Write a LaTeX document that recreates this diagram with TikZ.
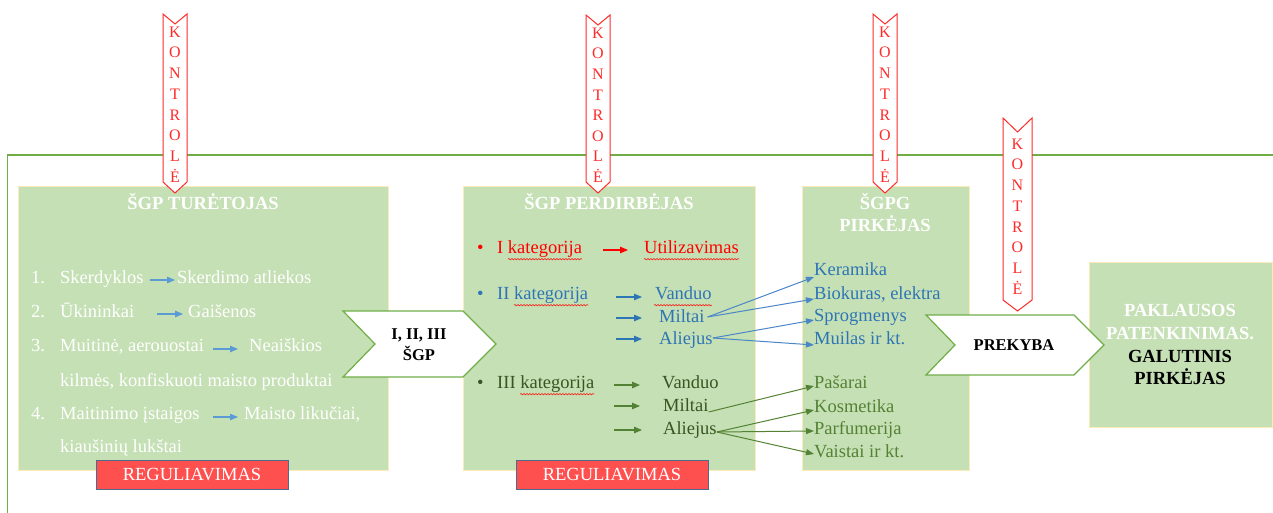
\documentclass[tikz,border=0pt]{standalone}
\usepackage{fontspec}
\setmainfont{Liberation Serif}
\usetikzlibrary{arrows.meta,calc,decorations.pathmorphing}

\definecolor{boxgreen}{HTML}{C5E0B4}
\definecolor{boxedge}{HTML}{FCEBB8}
\definecolor{framegreen}{HTML}{70AD47}
\definecolor{ctrlred}{HTML}{FF2A2A}
\definecolor{regred}{HTML}{FF5050}
\definecolor{regedge}{HTML}{4F6A8F}
\definecolor{catred}{HTML}{FF0000}
\definecolor{catblue}{HTML}{2E75B6}
\definecolor{lineblue}{HTML}{4A86C8}
\definecolor{listblue}{HTML}{5B9BD5}
\definecolor{catgreen}{HTML}{375623}
\definecolor{itemgreen}{HTML}{548235}

\newcommand\bodyfs{\fontsize{18.5}{22}\selectfont}
\newcommand\ctrlfs{\fontsize{16}{18}\selectfont}
\newcommand\chevfs{\fontsize{16.5}{20}\selectfont\bfseries}

\tikzset{
  txt/.style={inner sep=0pt, anchor=west, text height=13pt, text depth=4pt, font=\bodyfs},
  title/.style={inner sep=0pt, text height=12.3pt, text depth=0pt, font=\bodyfs\bfseries, text=white},
  panel/.style={draw=boxedge, line width=0.8pt, fill=boxgreen, inner sep=0pt},
  ctrl/.style={draw=ctrlred, fill=white, line width=1pt, line join=miter},
  ctrlletter/.style={inner sep=0pt, text height=10.6pt, text depth=0pt, font=\ctrlfs, text=ctrlred},
  chev/.style={draw=framegreen, fill=white, line width=1.2pt, line join=miter},
  chevtext/.style={inner sep=0pt, text height=11pt, text depth=0pt, font=\chevfs},
  regbox/.style={draw=regedge, line width=1pt, fill=regred, minimum width=192pt,
    minimum height=29pt, inner sep=0pt, font=\bodyfs, text=white},
  listarr/.style={-{Triangle[length=8pt,width=6.5pt]}, line width=1.1pt, draw=listblue},
  catarr/.style={-{Triangle[length=8pt,width=6.5pt]}, line width=1.1pt},
  wavy/.style={draw=catred, line width=0.5pt, decorate,
    decoration={snake, segment length=3pt, amplitude=0.7pt}},
  fanblue/.style={-{Triangle[length=8pt,width=6pt]}, line width=1pt, draw=lineblue},
  fangreen/.style={-{Triangle[length=8pt,width=6pt]}, line width=1pt, draw=itemgreen},
}

\begin{document}
\begin{tikzpicture}[x=1pt, y=-1pt]
\useasboundingbox (0,0) rectangle (1273,513);

% outer frame
\draw[framegreen, line width=1.2pt] (1273,155) -- (7.5,155) -- (7.5,513);

% panels
\node[panel, minimum width=370pt, minimum height=284pt] (holder) at (203,328) {};
\node[panel, minimum width=292pt, minimum height=284pt] (processor) at (609,328) {};
\node[panel, minimum width=167pt, minimum height=284pt] (buyer) at (885.5,328) {};
\node[panel, minimum width=183pt, minimum height=165pt] (final) at (1180.5,344.5) {};

% chevrons
\draw[chev] (343,311) -- (463,311) -- (496,344) -- (463,377) -- (343,377) -- (375,344) -- cycle;
\node[chevtext] (chevA) at (419,334) {I, II, III};
\node[chevtext] (chevB) at (419,355) {ŠGP};
\draw[chev] (926,315) -- (1074,315) -- (1104,345) -- (1074,375) -- (926,375) -- (955,345) -- cycle;
\node[chevtext] (trade) at (1014,345) {PREKYBA};

% control banners
\draw[ctrl] (163,14) -- (175,24) -- (187,14) -- (187,182) -- (175,193) -- (163,182) -- cycle;
\foreach \l [count=\i from 0] in {K,O,N,T,R,O,L,Ė}
  \node[ctrlletter] (ctrlA\i) at (175,{32+20.7*\i}) {\l};
\draw[ctrl] (586,15) -- (598,25) -- (610,15) -- (610,182) -- (598,193) -- (586,182) -- cycle;
\foreach \l [count=\i from 0] in {K,O,N,T,R,O,L,Ė}
  \node[ctrlletter] (ctrlB\i) at (598,{33+20.6*\i}) {\l};
\draw[ctrl] (873,14) -- (885,24) -- (897,14) -- (897,182) -- (885,193) -- (873,182) -- cycle;
\foreach \l [count=\i from 0] in {K,O,N,T,R,O,L,Ė}
  \node[ctrlletter] (ctrlC\i) at (885,{32+20.7*\i}) {\l};
\draw[ctrl] (1003,118) -- (1017.5,132) -- (1032,118) -- (1032,300) -- (1017.5,311) -- (1003,300) -- cycle;
\foreach \l [count=\i from 0] in {K,O,N,T,R,O,L,Ė}
  \node[ctrlletter] (ctrlD\i) at (1017.5,{144+20.7*\i}) {\l};

% regulation labels
\node[regbox] (regA) at (192,474.5) {REGULIAVIMAS};
\node[regbox] (regB) at (612,474.5) {REGULIAVIMAS};

% holder panel
\node[title] (holderT) at (203,203) {ŠGP TURĖTOJAS};
\begin{scope}[every node/.style={txt, text=white}]
  \node (num1) at (31,279) {1.};
  \node (src1) at (60,279) {Skerdyklos};
  \node (out1) at (177,279) {Skerdimo atliekos};
  \node (num2) at (31,313) {2.};
  \node (src2) at (60,313) {Ūkininkai};
  \node (out2) at (188,313) {Gaišenos};
  \node (num3) at (31,347) {3.};
  \node (src3) at (60,347) {Muitinė, aerouostai};
  \node (out3) at (249,347) {Neaiškios};
  \node (cont3) at (60,382) {kilmės, konfiskuoti maisto produktai};
  \node (num4) at (31,415) {4.};
  \node (src4) at (60,415) {Maitinimo įstaigos};
  \node (out4) at (244,415) {Maisto likučiai,};
  \node (cont4) at (60,448) {kiaušinių lukštai};
\end{scope}
\draw[listarr] ($(out1.west)+(-27,1)$) -- ($(out1.west)+(-2,1)$);
\draw[listarr] ($(out2.west)+(-31,1)$) -- ($(out2.west)+(-5,1)$);
\draw[listarr] ($(out3.west)+(-36,2)$) -- ($(out3.west)+(-11,2)$);
\draw[listarr] ($(out4.west)+(-31,2)$) -- ($(out4.west)+(-6,2)$);

% processor panel
\node[title] (procT) at (609,203) {ŠGP PERDIRBĖJAS};
\node[txt, text=catred] (dot1) at (477,249) {•};
\node[txt, text=catred] (cat1) at (497,249) {I kategorija};
\node[txt, text=catred] (util) at (644,249) {Utilizavimas};
\draw[catarr, draw=catred] ($(util.west)+(-41,1)$) -- ($(util.west)+(-16,1)$);
\path[wavy] ($(cat1.south west)+(11,1.5)$) -- ($(cat1.south east)+(0,1.5)$);
\path[wavy] ($(util.south west)+(0,1.5)$) -- ($(util.south east)+(0,1.5)$);

\node[txt, text=catblue] (dot2) at (477,295) {•};
\node[txt, text=catblue] (cat2) at (497,295) {II kategorija};
\node[txt, text=catblue] (pv2) at (655,295) {Vanduo};
\node[txt, text=catblue] (pm2) at (659,318) {Miltai};
\node[txt, text=catblue] (pa2) at (659,340) {Aliejus};
\path[wavy] ($(cat2.south west)+(17,1.5)$) -- ($(cat2.south east)+(0,1.5)$);
\path[wavy] ($(pv2.south west)+(-1,1.5)$) -- ($(pv2.south east)+(0,1.5)$);
\coordinate (blueFrom) at (616,0);
\coordinate (blueTo) at (642,0);
\draw[catarr, draw=catblue] (blueFrom |- 0,297) -- (blueTo |- 0,297);
\draw[catarr, draw=catblue] (blueFrom |- pm2.west) -- (blueTo |- pm2.west);
\draw[catarr, draw=catblue] ($(blueFrom |- pa2.west)+(0,-1)$) -- ($(blueTo |- pa2.west)+(0,-1)$);

\node[txt, text=catgreen] (dot3) at (477,384) {•};
\node[txt, text=catgreen] (cat3) at (497,384) {III kategorija};
\node[txt, text=catgreen] (pv3) at (662,384) {Vanduo};
\node[txt, text=catgreen] (pm3) at (663,407) {Miltai};
\node[txt, text=catgreen] (pa3) at (663,430) {Aliejus};
\path[wavy] ($(cat3.south west)+(23,1.5)$) -- ($(cat3.south east)+(0,1.5)$);
\coordinate (greenFrom) at (614,0);
\coordinate (greenTo) at (640,0);
\draw[catarr, draw=itemgreen] ($(greenFrom |- pv3.west)+(0,1)$) -- ($(greenTo |- pv3.west)+(0,1)$);
\draw[catarr, draw=itemgreen] ($(greenFrom |- pm3.west)+(0,-1)$) -- ($(greenTo |- pm3.west)+(0,-1)$);
\draw[catarr, draw=itemgreen] (greenFrom |- pa3.west) -- ($(greenTo |- pa3.west)+(2,0)$);

% buyer panel
\node[title] (buyT1) at (885,203) {ŠGPG};
\node[title] (buyT2) at (885,225) {PIRKĖJAS};
\begin{scope}[every node/.style={txt, text=catblue}]
  \node (ker) at (814,271) {Keramika};
  \node (bio) at (814,295) {Biokuras, elektra};
  \node (spr) at (814,317) {Sprogmenys};
  \node (mui) at (814,340) {Muilas ir kt.};
\end{scope}
\begin{scope}[every node/.style={txt, text=itemgreen}]
  \node (pas) at (814,384) {Pašarai};
  \node (kos) at (814,408) {Kosmetika};
  \node (par) at (814,430) {Parfumerija};
  \node (vai) at (814,453) {Vaistai ir kt.};
\end{scope}

% product flows
\draw[fanblue] ($(pm2.east)+(3,-1)$) -- ($(ker.west)+(0,6)$);
\draw[fanblue] ($(pm2.east)+(3,-1)$) -- ($(bio.west)+(0,4)$);
\draw[fanblue] ($(pa2.east)+(0,-2)$) -- ($(spr.west)+(0,3)$);
\draw[fanblue] ($(pa2.east)+(0,-2)$) -- ($(mui.west)+(0,5)$);
\draw[fangreen] ($(pm3.east)+(0,5)$) -- ($(pas.west)+(0,2)$);
\draw[fangreen] ($(pa3.east)+(0,2)$) -- ($(kos.west)+(0,2)$);
\draw[fangreen] ($(pa3.east)+(0,2)$) -- ($(par.west)+(0,1)$);
\draw[fangreen] ($(pa3.east)+(0,2)$) -- ($(vai.west)+(0,1)$);

% final panel
\node[title] (finT1) at (1180,310) {PAKLAUSOS};
\node[title] (finT2) at (1180,333) {PATENKINIMAS.};
\node[title, text=black] (finT3) at (1180,356) {GALUTINIS};
\node[title, text=black] (finT4) at (1180,378) {PIRKĖJAS};
\end{tikzpicture}
\end{document}
